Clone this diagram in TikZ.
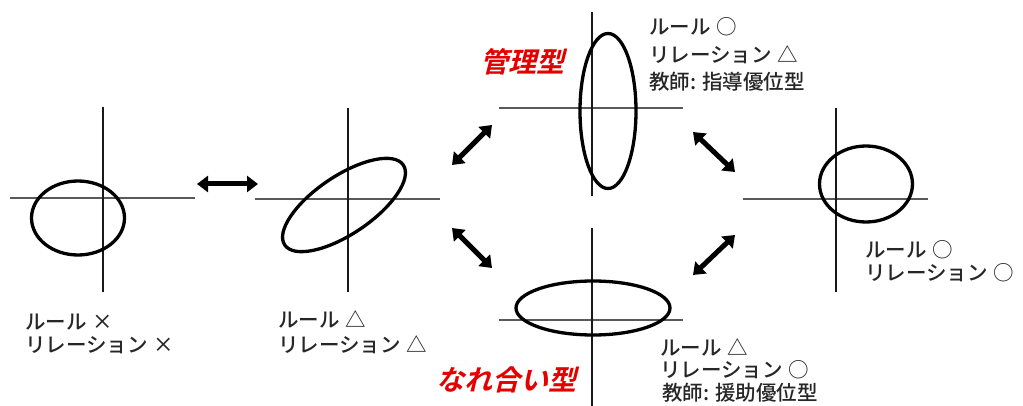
\documentclass[tikz,border=0pt]{standalone}
\usepackage{fontspec}
\setmainfont{Noto Sans CJK JP Medium}
\newfontfamily\redfont[FakeSlant=0.25]{Noto Sans CJK JP Bold}
\usetikzlibrary{shapes.geometric,arrows.meta}
\newcommand{\gp}{\hspace{6pt}}
\begin{document}
\begin{tikzpicture}[x=1pt,y=-1pt,
  ell/.style={ellipse,draw=black,line width=3.3pt,inner sep=0pt},
  haxis/.style={line width=2.2pt,draw=black!65},
  vaxis/.style={line width=2pt,draw=black!90},
  dbl/.style={line width=5pt,{Triangle[length=11pt,width=16pt]}-{Triangle[length=11pt,width=16pt]}},
  lbl/.style={anchor=west,inner sep=0pt,font=\fontsize{20.5}{24}\selectfont,text=black!85},
  typ/.style={inner sep=0pt,font=\fontsize{28}{32}\selectfont\redfont,text=red!90!black}]
\useasboundingbox (0,0) rectangle (1023,406);
% panel 1
\coordinate (h1a) at (10,198); \coordinate (h1b) at (195,198);
\coordinate (v1a) at (103,107); \coordinate (v1b) at (103,292);
\draw[haxis] (h1a) -- (h1b);
\draw[vaxis] (v1a) -- (v1b);
\node[ell,minimum width=93pt,minimum height=74pt] (e1) at (78,218) {};
\node[lbl] (t1a) at (25,322) {ルール\gp ×};
\node[lbl] (t1b) at (25,345) {リレーション\gp ×};
% panel 2
\coordinate (h2a) at (255,199); \coordinate (h2b) at (440,199);
\coordinate (v2a) at (348,108); \coordinate (v2b) at (348,292);
\draw[haxis] (h2a) -- (h2b);
\draw[vaxis] (v2a) -- (v2b);
\node[ell,minimum width=143pt,minimum height=58pt,rotate=34] (e2) at (344,205) {};
\node[lbl] (t2a) at (278,319) {ルール\gp △};
\node[lbl] (t2b) at (278,345) {リレーション\gp △};
% panel 3 (top)
\coordinate (h3a) at (499,108); \coordinate (h3b) at (683,108);
\coordinate (v3a) at (592,12); \coordinate (v3b) at (592,196);
\draw[haxis] (h3a) -- (h3b);
\draw[vaxis] (v3a) -- (v3b);
\node[ell,minimum width=56pt,minimum height=155pt] (e3) at (608,111) {};
\node[lbl] (t3a) at (649,27) {ルール\gp ○};
\node[lbl] (t3b) at (649,55) {リレーション\gp △};
\node[lbl] (t3c) at (649,82) {教師: 指導優位型};
\node[typ] (k3) at (522,62) {管理型};
% panel 4 (bottom)
\coordinate (h4a) at (499,320); \coordinate (h4b) at (683,320);
\coordinate (v4a) at (592,228); \coordinate (v4b) at (592,406);
\draw[haxis] (h4a) -- (h4b);
\draw[vaxis] (v4a) -- (v4b);
\node[ell,minimum width=154pt,minimum height=54pt] (e4) at (593,308) {};
\node[lbl] (t4a) at (660,347) {ルール\gp △};
\node[lbl] (t4b) at (660,370) {リレーション\gp ○};
\node[lbl] (t4c) at (662,393) {教師: 援助優位型};
\node[typ] (k4) at (506,380) {なれ合い型};
% panel 5
\coordinate (h5a) at (743,199); \coordinate (h5b) at (928,199);
\coordinate (v5a) at (836,108); \coordinate (v5b) at (836,292);
\draw[haxis] (h5a) -- (h5b);
\draw[vaxis] (v5a) -- (v5b);
\node[ell,minimum width=93pt,minimum height=76pt] (e5) at (866,184) {};
\node[lbl] (t5a) at (865,250) {ルール\gp ○};
\node[lbl] (t5b) at (865,273) {リレーション\gp ○};
% arrows
\coordinate (a1s) at (197,184); \coordinate (a1e) at (258,184);
\coordinate (a2s) at (452,165); \coordinate (a2e) at (492,125);
\coordinate (a3s) at (693,132); \coordinate (a3e) at (735,172);
\coordinate (a4s) at (452,228); \coordinate (a4e) at (492,268);
\coordinate (a5s) at (693,275); \coordinate (a5e) at (735,235);
\draw[dbl] (a1s) -- (a1e);
\draw[dbl] (a2s) -- (a2e);
\draw[dbl] (a3s) -- (a3e);
\draw[dbl] (a4s) -- (a4e);
\draw[dbl] (a5s) -- (a5e);
\end{tikzpicture}
\end{document}
